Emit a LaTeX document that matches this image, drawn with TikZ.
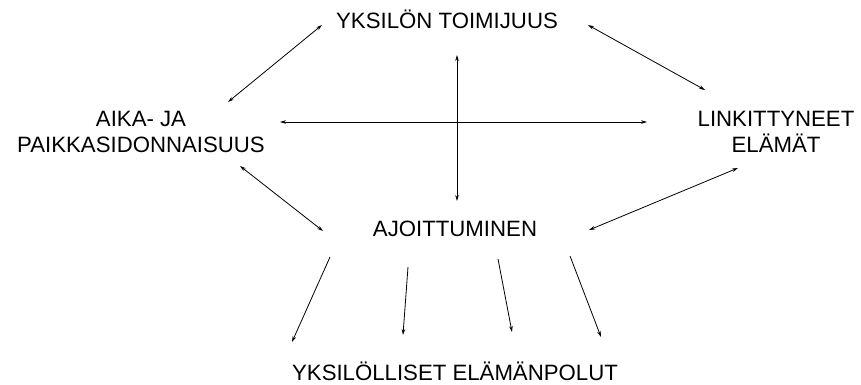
\documentclass[tikz,border=0pt]{standalone}
\usepackage{fontspec}
\setmainfont{Liberation Sans}
\usetikzlibrary{arrows.meta}
\begin{document}
\begin{tikzpicture}[x=1pt,y=-1pt,
  lbl/.style={inner sep=0pt,align=center,font=\fontsize{22.2}{26}\selectfont},
  link/.style={line width=0.8pt,{Stealth[length=6pt,width=3.6pt]}-{Stealth[length=6pt,width=3.6pt]}},
  down/.style={line width=0.8pt,-{Stealth[length=6pt,width=3.6pt]}}]
\useasboundingbox (0,0) rectangle (861,385);
% labels
\node[lbl,anchor=base] (toim) at (447,29) {YKSILÖN TOIMIJUUS};
\node[lbl] (aika) at (141,132) {AIKA- JA\\PAIKKASIDONNAISUUS};
\node[lbl] (link) at (776,132) {LINKITTYNEET\\ELÄMÄT};
\node[lbl,anchor=base] (ajo) at (455,236) {AJOITTUMINEN};
\node[lbl,anchor=base] (polut) at (455,380) {YKSILÖLLISET ELÄMÄNPOLUT};
% connector ends
\coordinate (a1) at (322,25);  \coordinate (a2) at (228,102);
\coordinate (b1) at (588,25);  \coordinate (b2) at (705,90);
\coordinate (h1) at (280,122); \coordinate (h2) at (647,122);
\coordinate (v1) at (457,55);  \coordinate (v2) at (457,201);
\coordinate (c1) at (240,166); \coordinate (c2) at (323,231);
\coordinate (d1) at (738,168); \coordinate (d2) at (589,230);
\coordinate (e1) at (330,257); \coordinate (e2) at (292,342);
\coordinate (f1) at (408,267); \coordinate (f2) at (403,335);
\coordinate (g1) at (498,259); \coordinate (g2) at (512,332);
\coordinate (k1) at (570,256); \coordinate (k2) at (601,337);
% connectors
\draw[link] (a1) -- (a2);
\draw[link] (b1) -- (b2);
\draw[link] (h1) -- (h2);
\draw[link] (v1) -- (v2);
\draw[link] (c1) -- (c2);
\draw[link] (d1) -- (d2);
\draw[down] (e1) -- (e2);
\draw[down] (f1) -- (f2);
\draw[down] (g1) -- (g2);
\draw[down] (k1) -- (k2);
\end{tikzpicture}
\end{document}
